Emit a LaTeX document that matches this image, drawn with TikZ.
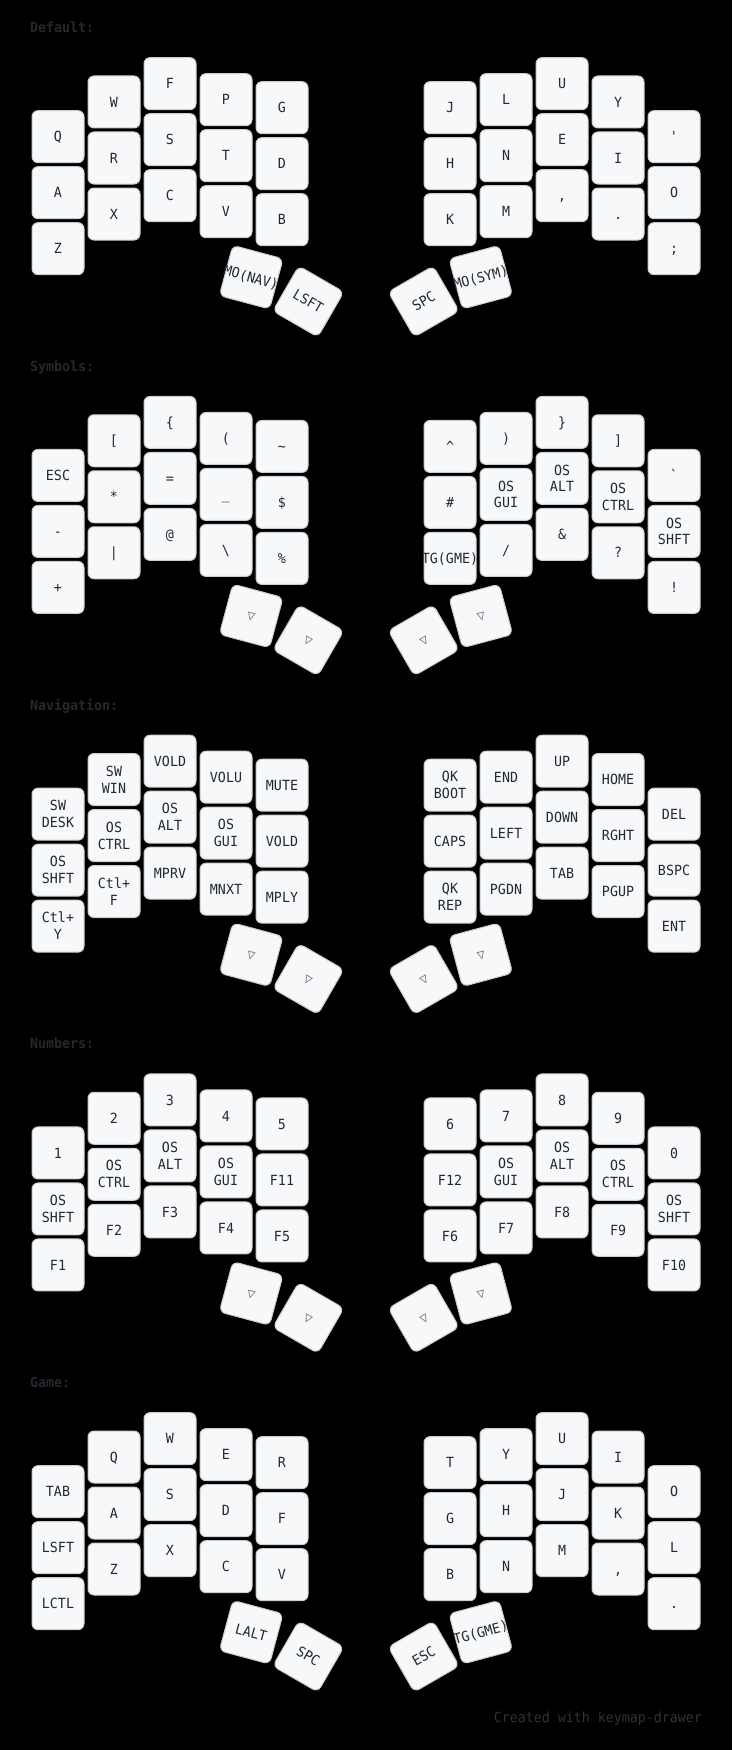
\documentclass[tikz,border=0pt]{standalone}
\usepackage{fontspec}
\newfontfamily\kf{DejaVu Sans Mono}[FakeStretch=0.95]
\definecolor{keyfill}{HTML}{F6F8FA}
\definecolor{keystroke}{HTML}{C9CCCF}
\definecolor{txt}{HTML}{24292E}
\definecolor{transc}{HTML}{7B7E81}
\definecolor{footc}{HTML}{2E3338}
\tikzset{
  keybox/.style={shape=rectangle, draw=keystroke, fill=keyfill, line width=1pt, rounded corners=6pt,
    minimum width=52pt, minimum height=52pt, inner sep=0pt, outer sep=0pt},
  legend/.style={anchor=base, inner sep=0pt, outer sep=0pt, text=txt, font=\kf\fontsize{14pt}{16.8pt}\selectfont},
  lbl/.style={anchor=base west, inner sep=0pt, outer sep=0pt, text=txt, font=\kf\bfseries\fontsize{14pt}{16.8pt}\selectfont},
  foot/.style={anchor=base east, inner sep=0pt, outer sep=0pt, text=footc, font=\kf\fontsize{14pt}{16.8pt}\selectfont},
}
\newcommand\two[2]{\makebox[0pt]{\raisebox{8.4pt}{#1}}\makebox[0pt]{\raisebox{-8.4pt}{#2}}}
\newcommand\tri{\textcolor{transc}{▽}}
% one key: name, x, y, rotation (clockwise), legend
\newcommand\kcap[5]{%
  \begin{scope}[shift={(#2,-#3)}, rotate=-#4, transform shape]
    \node[keybox] (#1) at (0,0) {};
    \node[legend] (#1-l) at (0,-5.1) {#5};
  \end{scope}}
% one column of three keys: prefix, column index, three legends
\newcommand\kcol[5]{%
  \pgfmathsetmacro\kx{{58,114,170,226,282,450,506,562,618,674}[#2]}%
  \pgfmathsetmacro\kya{{136.67,102,83.67,99.67,107.67,107.67,99.67,83.67,102,136.67}[#2]}%
  \pgfmathsetmacro\kyb{\kya+56}%
  \pgfmathsetmacro\kyc{\kya+112}%
  \kcap{#1c#2r0}{\kx}{\kya}{0}{#3}%
  \kcap{#1c#2r1}{\kx}{\kyb}{0}{#4}%
  \kcap{#1c#2r2}{\kx}{\kyc}{0}{#5}}
% thumb keys: prefix, left inner, left outer, right outer, right inner
\newcommand\kthumbs[5]{%
  \kcap{#1tl1}{251.2}{277.2}{15}{#2}%
  \kcap{#1tl2}{308.3}{301.5}{30}{#3}%
  \kcap{#1tr2}{423.7}{301.5}{-30}{#4}%
  \kcap{#1tr1}{480.8}{277.2}{-15}{#5}}
\begin{document}
\begin{tikzpicture}[x=1pt, y=1pt]
\useasboundingbox (0,0) rectangle (732,-1750);
\fill[black] (0,0) rectangle (732,-1750);

% ---------------- Default
\begin{scope}[yshift=0pt]
\node[lbl] (lab0) at (30,-32.7) {Default:};
\kcol{D}{0}{Q}{A}{Z}
\kcol{D}{1}{W}{R}{X}
\kcol{D}{2}{F}{S}{C}
\kcol{D}{3}{P}{T}{V}
\kcol{D}{4}{G}{D}{B}
\kcol{D}{5}{J}{H}{K}
\kcol{D}{6}{L}{N}{M}
\kcol{D}{7}{U}{E}{,}
\kcol{D}{8}{Y}{I}{.}
\kcol{D}{9}{\textquotesingle}{O}{;}
\kthumbs{D}{MO(NAV)}{LSFT}{SPC}{MO(SYM)}
\end{scope}

% ---------------- Symbols
\begin{scope}[yshift=-338.75pt]
\node[lbl] (lab1) at (30,-32.7) {Symbols:};
\kcol{S}{0}{ESC}{-}{+}
\kcol{S}{1}{[}{*}{|}
\kcol{S}{2}{\{}{=}{@}
\kcol{S}{3}{(}{\_}{\textbackslash}
\kcol{S}{4}{\textasciitilde}{\$}{\%}
\kcol{S}{5}{\textasciicircum}{\#}{TG(GME)}
\kcol{S}{6}{)}{\two{OS}{GUI}}{/}
\kcol{S}{7}{\}}{\two{OS}{ALT}}{\&}
\kcol{S}{8}{]}{\two{OS}{CTRL}}{?}
\kcol{S}{9}{\textasciigrave}{\two{OS}{SHFT}}{!}
\kthumbs{S}{\tri}{\tri}{\tri}{\tri}
\end{scope}

% ---------------- Navigation
\begin{scope}[yshift=-677.5pt]
\node[lbl] (lab2) at (30,-32.7) {Navigation:};
\kcol{N}{0}{\two{SW}{DESK}}{\two{OS}{SHFT}}{\two{Ctl+}{Y}}
\kcol{N}{1}{\two{SW}{WIN}}{\two{OS}{CTRL}}{\two{Ctl+}{F}}
\kcol{N}{2}{VOLD}{\two{OS}{ALT}}{MPRV}
\kcol{N}{3}{VOLU}{\two{OS}{GUI}}{MNXT}
\kcol{N}{4}{MUTE}{VOLD}{MPLY}
\kcol{N}{5}{\two{QK}{BOOT}}{CAPS}{\two{QK}{REP}}
\kcol{N}{6}{END}{LEFT}{PGDN}
\kcol{N}{7}{UP}{DOWN}{TAB}
\kcol{N}{8}{HOME}{RGHT}{PGUP}
\kcol{N}{9}{DEL}{BSPC}{ENT}
\kthumbs{N}{\tri}{\tri}{\tri}{\tri}
\end{scope}

% ---------------- Numbers
\begin{scope}[yshift=-1016.25pt]
\node[lbl] (lab3) at (30,-32.7) {Numbers:};
\kcol{M}{0}{1}{\two{OS}{SHFT}}{F1}
\kcol{M}{1}{2}{\two{OS}{CTRL}}{F2}
\kcol{M}{2}{3}{\two{OS}{ALT}}{F3}
\kcol{M}{3}{4}{\two{OS}{GUI}}{F4}
\kcol{M}{4}{5}{F11}{F5}
\kcol{M}{5}{6}{F12}{F6}
\kcol{M}{6}{7}{\two{OS}{GUI}}{F7}
\kcol{M}{7}{8}{\two{OS}{ALT}}{F8}
\kcol{M}{8}{9}{\two{OS}{CTRL}}{F9}
\kcol{M}{9}{0}{\two{OS}{SHFT}}{F10}
\kthumbs{M}{\tri}{\tri}{\tri}{\tri}
\end{scope}

% ---------------- Game
\begin{scope}[yshift=-1355pt]
\node[lbl] (lab4) at (30,-32.7) {Game:};
\kcol{G}{0}{TAB}{LSFT}{LCTL}
\kcol{G}{1}{Q}{A}{Z}
\kcol{G}{2}{W}{S}{X}
\kcol{G}{3}{E}{D}{C}
\kcol{G}{4}{R}{F}{V}
\kcol{G}{5}{T}{G}{B}
\kcol{G}{6}{Y}{H}{N}
\kcol{G}{7}{U}{J}{M}
\kcol{G}{8}{I}{K}{,}
\kcol{G}{9}{O}{L}{.}
\kthumbs{G}{LALT}{SPC}{ESC}{TG(GME)}
\end{scope}

\node[foot] (footer) at (702,-1722.3) {Created with keymap-drawer};
\end{tikzpicture}
\end{document}
